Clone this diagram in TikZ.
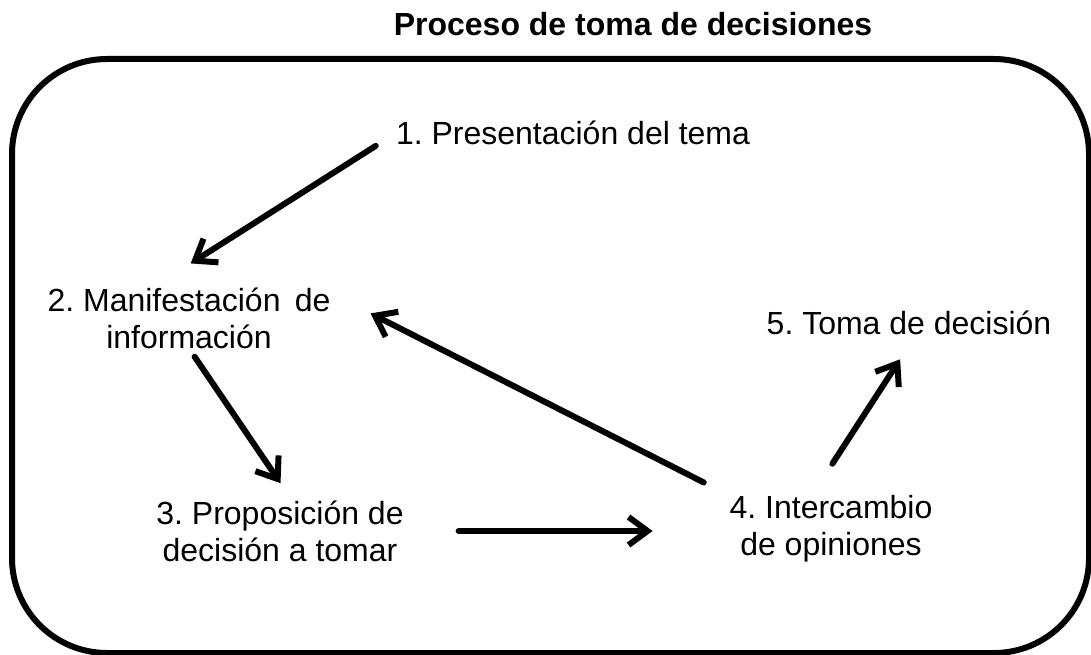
\documentclass[tikz,border=0pt]{standalone}
\usepackage{fontspec}
\setmainfont{Liberation Sans}
\usetikzlibrary{positioning, calc, arrows.meta}
\frenchspacing

\begin{document}
\begin{tikzpicture}[
    x=1pt, y=-1pt,
    paso/.style={inner sep=0pt, outer sep=0pt, align=center, font=\fontsize{32}{37}\selectfont},
    titulo/.style={inner sep=0pt, outer sep=0pt, font=\fontsize{32}{37}\selectfont\bfseries},
    arr/.style={-{Straight Barb[length=19pt, width=28pt]}, line width=6pt, line cap=round, line join=round}
]
    \useasboundingbox (0,0) rectangle (1091,655);

    % Frame
    \draw[line width=6pt, rounded corners=95pt] (12,59) rectangle (1089,653);

    % Title
    \node[titulo] (titulo) at (633,24) {Proceso de toma de decisiones};

    % Steps
    \node[paso] (p1) at (573,133) {1. Presentación del tema};
    \node[paso] (p2) at (189,318) {2. Manifestación\ \,de\\información};
    \node[paso] (p3) at (280,531) {3. Proposición de\\decisión a tomar};
    \node[paso] (p4) at (831,529) {4. Intercambio\\de opiniones};
    \node[paso] (p5) at (909,323) {5. Toma de decisión};

    % Connections
    \draw[arr, shorten <=24pt, shorten >=45pt] (p1.west) -- (p2.140);
    \draw[arr, shorten <=10pt, shorten >=21pt] (p2.south) -- (p3.68);
    \draw[arr, shorten <=55pt, shorten >=77pt] (p3.east) -- (p3.east -| p4.west);
    \draw[arr, shorten <=29pt, shorten >=45pt] (p4.north west) -- (p2.10);
    \draw[arr, shorten <=38pt, shorten >=29pt] (p4.120) -- (p5.-60);

\end{tikzpicture}
\end{document}
